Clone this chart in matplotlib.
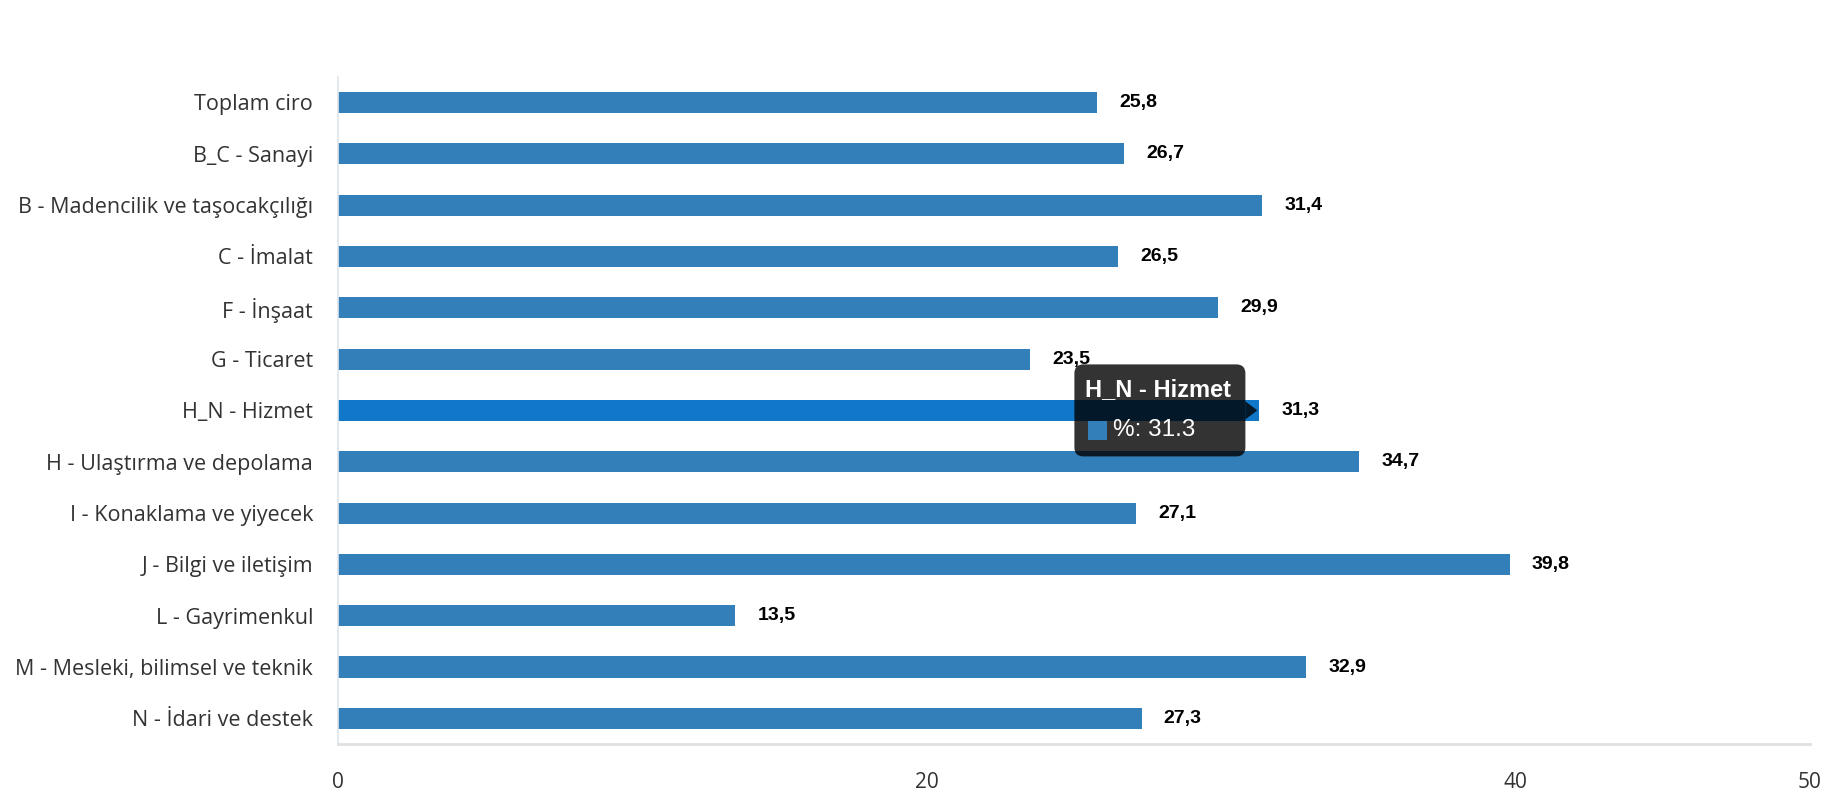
import matplotlib
matplotlib.use("Agg")
import matplotlib.pyplot as plt
from matplotlib.patches import FancyBboxPatch, Polygon, Rectangle
from matplotlib.transforms import IdentityTransform

categories = [
    "Toplam ciro",
    "B_C - Sanayi",
    "B - Madencilik ve taşocakçılığı",
    "C - İmalat",
    "F - İnşaat",
    "G - Ticaret",
    "H_N - Hizmet",
    "H - Ulaştırma ve depolama",
    "I - Konaklama ve yiyecek",
    "J - Bilgi ve iletişim",
    "L - Gayrimenkul",
    "M - Mesleki, bilimsel ve teknik",
    "N - İdari ve destek",
]
values = [25.8, 26.7, 31.4, 26.5, 29.9, 23.5, 31.3, 34.7, 27.1, 39.8, 13.5, 32.9, 27.3]
value_labels = ["25,8", "26,7", "31,4", "26,5", "29,9", "23,5", "31,3", "34,7", "27,1", "39,8", "13,5", "32,9", "27,3"]
x_ticks = [0, 20, 40, 50]
highlight = "H_N - Hizmet"
tooltip_title = "H_N - Hizmet"
tooltip_text = "%: 31.3"

BAR = "#337fb9"
HIGH = "#1177c8"
FONT = ["Open Sans", "DejaVu Sans"]
VFONT = ["Liberation Sans", "DejaVu Sans"]

fig = plt.figure(figsize=(18.3, 8.0), dpi=100)
ax = fig.add_axes([0.1847, 0.07, 0.989 - 0.1847, 0.904 - 0.07])

ypos = list(range(len(categories)))
colors = [HIGH if c == highlight else BAR for c in categories]
ax.barh(ypos, values, height=0.41, color=colors, edgecolor="none", zorder=2)

ax.set_xlim(0, 50)
ax.set_ylim(len(categories) - 0.5, -0.5)
ax.set_yticks(ypos)
ax.set_yticklabels(categories, fontsize=15.5, color="#333333", family=FONT)
ax.set_xticks(x_ticks)
ax.set_xticklabels([str(t) for t in x_ticks], fontsize=15, color="#333333", family=FONT)
ax.tick_params(axis="y", length=0, pad=18)
ax.tick_params(axis="x", length=0, pad=20)

for s in ["top", "right"]:
    ax.spines[s].set_visible(False)
ax.spines["left"].set_color("#dfe5ee")
ax.spines["left"].set_linewidth(1.2)
ax.spines["bottom"].set_color("#e0e0e0")
ax.spines["bottom"].set_linewidth(2)

for y, v, lab in zip(ypos, values, value_labels):
    ax.annotate(lab, (v, y), xytext=(16, 0), textcoords="offset points",
                ha="left", va="center", fontsize=14, fontweight="bold",
                color="black", family=VFONT, zorder=3)

# tooltip anchored at the highlighted bar's end
hi = categories.index(highlight)
tipx, tipy = ax.transData.transform((values[hi], ypos[hi]))
box_right = tipx - 14
box_left = box_right - 171
box_top = tipy + 46
box_bot = tipy - 46
tr = IdentityTransform()
box = FancyBboxPatch((box_left, box_bot), box_right - box_left, box_top - box_bot,
                     boxstyle="round,pad=0,rounding_size=9", transform=tr,
                     facecolor="black", alpha=0.8, edgecolor="none", zorder=10)
fig.patches.append(box)
tri = Polygon([[box_right, tipy + 9], [box_right + 12, tipy], [box_right, tipy - 9]],
              closed=True, transform=tr, facecolor="black", alpha=0.8, edgecolor="none", zorder=10)
fig.patches.append(tri)
fig.text(box_left + 11, tipy + 21, tooltip_title, transform=tr, color="white",
         fontsize=17, fontweight="bold", family=VFONT,
         ha="left", va="center", zorder=11)
sq = Rectangle((box_left + 14, tipy - 30), 19, 19, transform=tr, facecolor=BAR,
               edgecolor="none", zorder=11)
fig.patches.append(sq)
fig.text(box_left + 39, tipy - 20, tooltip_text, transform=tr, color="white",
         fontsize=17.5, family=VFONT,
         ha="left", va="center", zorder=11)

fig.savefig("out.png", dpi=100)
